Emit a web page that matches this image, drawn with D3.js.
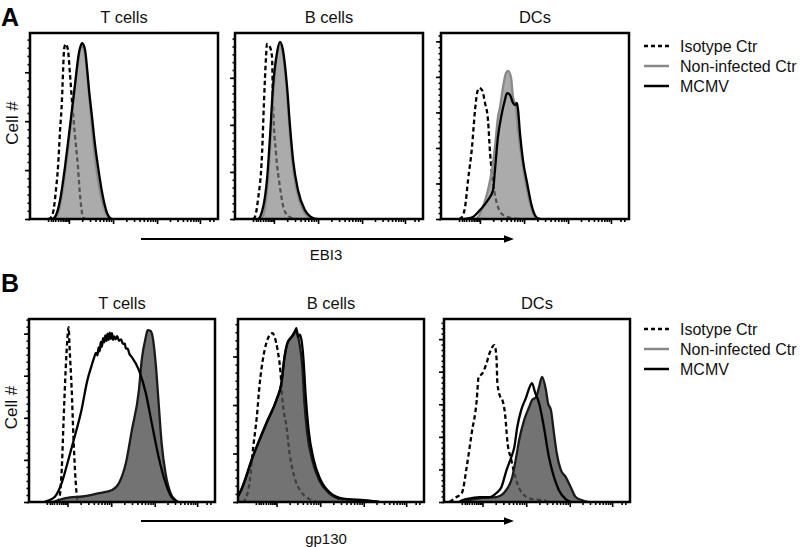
<!DOCTYPE html>
<html><head><meta charset="utf-8">
<script src="https://cdn.jsdelivr.net/npm/d3@7"></script>
<style>body{margin:0;background:#fff}svg text{font-family:Arial,"Liberation Sans",Helvetica,sans-serif;fill:#111}</style>
</head><body>
<svg id="chart" width="800" height="547"></svg>
<script>
// ---------- DATA ----------
const panelLetters = ["A", "B"];
const markers = ["EBI3", "gp130"];
const populations = ["T cells", "B cells", "DCs"];
const legendLabels = ["Isotype Ctr", "Non-infected Ctr", "MCMV"];
const yAxisLabel = "Cell #";

// x: fluorescence channel (% of display range), y: cell count (% of axis max)
// EBI3 - T cells
const ebi3T_iso  = [[9.6,0],[10.6,0.3],[12.2,3.2],[13.8,15.6],[14.9,28],[16.0,47.8],[17.0,64],[17.6,80],[18.1,90.9],[18.6,93.5],[19.1,94.1],[19.7,93],[20.2,90.9],[21.3,77.4],[22.3,64],[23.9,45.2],[25.5,28],[26.6,12.9],[28.2,1.1],[29.3,0]];
const ebi3T_ctrl = [[13.5,0],[15.5,5],[18,20],[20.5,40],[22.5,58],[24.5,76],[26.1,88],[27.2,92.5],[28.2,92.5],[29.3,88],[30.9,73],[32.4,55],[34.0,38],[35.6,25],[37.8,12],[40.2,3.5],[42.2,0]];
const ebi3T_mcmv = [[11.7,0],[13.3,1.1],[16.0,10.2],[18.6,28],[20.7,45.2],[22.3,58.6],[23.9,72],[25.0,81.7],[26.1,89.8],[27.1,93.5],[27.7,94.6],[28.2,94.1],[29.3,90.9],[30.3,81.7],[31.4,69.4],[33.0,54.8],[34.6,39.8],[36.2,28],[38.3,14.5],[41.0,3.2],[42.6,0.5],[43.6,0]];
// EBI3 - B cells
const ebi3B_iso  = [[9.6,0],[10.6,1.1],[12.2,10.2],[14.4,35.5],[15.4,62.4],[16.5,87.1],[17.0,94.1],[18.6,92.5],[19.7,87.1],[20.2,62.4],[21.8,35.5],[23.9,17.2],[26.6,3.8],[30.3,0.5],[33.0,0]];
const ebi3B_ctrl = [[13.5,0],[15,2],[17.5,21],[19,44],[20.6,71],[22.5,89],[23.9,94.5],[25.3,90],[27.4,71],[28.9,49.5],[30.4,31.7],[32.8,15.6],[36.2,4.8],[40,0.5],[42,0]];
const ebi3B_mcmv = [[12.2,0],[13.3,1.1],[17.0,21],[18.6,44.1],[20.2,71],[22.3,89.2],[23.9,95.2],[25.5,90.9],[27.7,71],[29.3,49.5],[30.9,31.7],[33.5,15.6],[37.2,4.8],[41.5,0.5],[43.6,0]];
// EBI3 - DCs
const ebi3D_iso  = [[9.6,0],[11.2,1.1],[12.8,6.5],[14.4,21],[16.5,38.7],[18.1,58.6],[19.2,67.7],[20.2,70.4],[21.8,69.4],[23.4,62.4],[25.0,53.2],[26.1,35.5],[27.7,19.4],[30.3,6.5],[33.0,2.2],[37.8,0.5],[42.0,0]];
const ebi3D_ctrl = [[18,0],[19.2,0.5],[22.3,6.5],[25.0,15.6],[27.1,26.3],[28.7,38.7],[30.3,54.8],[31.4,60.2],[33.0,71],[34.6,78.5],[35.6,79.6],[37.2,76.3],[38.3,65.6],[39.9,60.2],[41.0,47.8],[43.1,31.7],[45.8,15.6],[48.4,4.8],[51.1,0.5],[52.7,0]];
const ebi3D_mcmv = [[12,0],[13.8,0.2],[17.0,1.1],[20.7,4.8],[25.0,10.2],[27.7,15.6],[28.7,26.3],[30.3,44.1],[32.4,57],[34.0,64],[35.1,67.7],[36.7,66.7],[38.3,62.4],[39.4,61.3],[40.4,62.4],[41.0,58.6],[42.0,46.2],[43.6,31.7],[45.8,19.4],[48.4,6.5],[51.1,0.5],[52.7,0]];
// gp130 - T cells
const gpT_iso  = [[14.9,0],[16.0,1.1],[17.6,17.5],[18.6,44.8],[19.7,72.1],[20.7,90.1],[21.3,95.6],[21.8,84.6],[22.9,62.8],[23.9,35.5],[25.0,12.6],[26.1,1.1],[27.1,0]];
const gpT_ctrl = [[12.8,0],[16,1.1],[22,2.5],[28.7,3],[37.8,4.9],[44.7,6.6],[48.4,10.4],[52.1,21.3],[55.3,39.3],[59.1,61.2],[60.6,77.5],[62.8,90.1],[63.8,93.9],[65.4,93.4],[66.5,90.1],[68.1,75.9],[69.7,54.1],[71.3,32.2],[73.4,15.8],[76.1,4.9],[78.7,1.1],[80.3,0]];
const gpT_mcmv = [[8,0],[9.6,0.5],[13.8,2.7],[17.6,10.4],[20.7,21.3],[24.5,35.5],[28.2,50.2],[31.4,66.6],[33.5,74],[35.1,79.2],[36,81.5],[36.8,80.2],[37.4,84.5],[38,82.3],[38.6,87.5],[39.2,84.8],[39.8,89.5],[40.4,87.2],[41,91],[41.6,88],[42.2,92],[42.8,88.6],[43.4,92.5],[44,89.2],[44.6,92.2],[45.2,88.6],[45.8,90.5],[46.6,88.9],[47.4,90.6],[48.4,88.1],[49.5,88.9],[50.5,86.4],[51.5,86.5],[52.1,83.8],[53,83.8],[54,80.9],[55.3,79.2],[59.1,72.1],[62.8,59.5],[66.0,43.1],[69.7,24.6],[73.4,10.4],[76.6,2.7],[80.3,0]];
// gp130 - B cells
const gpB_iso  = [[2.5,0],[3.7,1.1],[6.4,12],[8.0,28.4],[10.1,46.4],[11.7,65],[13.3,77.5],[15.4,87.4],[17.0,91.2],[18.6,92.3],[19.7,90.1],[21.3,83],[22.9,70.4],[23.9,55.7],[26.1,41],[27.7,26.8],[30.3,13.7],[34.0,5.5],[38.3,1.6],[42.6,0]];
const gpB_ctrl = [[0,3],[1.1,4.9],[8.0,24.6],[15.4,43.1],[20.7,55.7],[23.4,65],[25.0,79.2],[26.6,86.8],[28.7,90.1],[31.4,93.9],[33.0,86.8],[34.6,73.7],[35.6,55.7],[37.2,37.7],[39.9,22.9],[43.6,12],[48.9,4.9],[55.9,1.6],[64.9,1.1],[75.5,0]];
const gpB_mcmv = [[0,3.5],[1.1,5.4],[8.0,25],[15.4,43.6],[20.7,56],[23.4,65.5],[25.0,79],[26.6,87],[28.7,90],[30.2,92],[31.4,95],[32.2,90],[33.2,91.5],[34.2,88],[35.2,78],[36.4,58],[38,39],[40.6,23.5],[44.3,12.3],[49.6,5],[56.6,1.8],[65.6,1.1],[76,0]];
// gp130 - DCs
const gpD_iso  = [[3,0],[5.9,2.2],[9.6,4.9],[12.2,19.1],[14.9,37.7],[17.6,55.7],[18.6,68.3],[20.7,70.4],[22.9,75.9],[24.5,81.4],[27.1,85.7],[28.2,79.2],[28.7,65],[30.3,57.3],[31.4,55.7],[33.0,46.4],[34.0,33.9],[36.2,22.9],[38.8,12],[42.0,4.9],[47.3,1.6],[52.7,1.1],[56,0]];
const gpD_ctrl = [[10,0],[13.8,1.1],[20.7,2.2],[28.2,2.7],[33.5,6.6],[36.7,13.7],[38.8,24.6],[40.4,33.9],[43.1,44.8],[45.8,51.9],[47.3,55.7],[49.5,57.3],[51.1,62.8],[52.7,68.3],[54.8,61.2],[55.9,54.1],[57.5,50.2],[59.1,37.7],[60.6,26.8],[62.8,17.5],[65.4,13.7],[68.1,8.2],[70.8,2.7],[73.9,1.1],[77.7,0]];
const gpD_mcmv = [[8,0],[10.1,1.1],[15.4,2.2],[19.2,2.7],[24.5,2.7],[28.2,4.9],[30.9,8.2],[33.5,17],[36.2,24.6],[37.8,30.0],[39.4,41],[41.5,50.2],[44.2,57.3],[45.8,62.2],[47.3,65],[48.9,60.1],[51.1,54.1],[53.7,41],[56.4,24.6],[59.1,13.7],[61.7,6.6],[65.4,1.6],[68.1,0]];

const histData = [
  [[ebi3T_iso, ebi3T_ctrl, ebi3T_mcmv], [ebi3B_iso, ebi3B_ctrl, ebi3B_mcmv], [ebi3D_iso, ebi3D_ctrl, ebi3D_mcmv]],
  [[gpT_iso, gpT_ctrl, gpT_mcmv], [gpB_iso, gpB_ctrl, gpB_mcmv], [gpD_iso, gpD_ctrl, gpD_mcmv]]
];
// count-axis major tick step (% of axis max) per panel
const yTickSteps = [[26.3, 25.3, 19.1], [23.0, 26.5, 17.8]];
// channel-axis ticks (decades of biexponential display)
const xDecadeTicks = [20.7, 44.2, 67.6, 90.4];
const xLowTicks = [9.6, 11.2, 12.2, 13.4, 14.9, 16.2, 17.4, 18.4, 19.3, 20.1];

// ---------- LAYOUT ----------
const rows = [
  {top: 33, h: 186, lefts: [30, 235, 441], w: 188, arrowY: 239, labelY: 260, letterY: 26, legendY: [46, 66, 86], ctrlStroke: "#8a8a8a", ctrlFill: "#7f7f7f", ctrlOpacity: 0.66},
  {top: 319, h: 183, lefts: [29, 238, 444], w: 186, arrowY: 521, labelY: 544, letterY: 292, legendY: [329, 349, 369], ctrlStroke: "#1a1a1a", ctrlFill: "#505050", ctrlOpacity: 0.8}
];

const svg = d3.select("#chart");
const defs = svg.append("defs");
defs.append("marker").attr("id", "arrow").attr("viewBox", "0 0 10 10")
  .attr("refX", 1).attr("refY", 5).attr("markerWidth", 5).attr("markerHeight", 5)
  .attr("markerUnits", "strokeWidth").attr("orient", "auto")
  .append("path").attr("d", "M0,1.2L10,5L0,8.8Z").attr("fill", "#000");

const minorX = [];
xDecadeTicks.forEach((d, i) => {
  if (i < xDecadeTicks.length - 1) {
    const step = xDecadeTicks[i + 1] - d;
    for (let m = 2; m <= 9; m++) minorX.push(d + step * Math.log10(m));
  }
});
const allMinorX = xLowTicks.concat(minorX).concat([95.5, 97.5]);

rows.forEach((r, ri) => {
  // panel letter
  svg.append("text").attr("x", 1).attr("y", r.letterY)
    .attr("font-size", 25).attr("font-weight", "bold").style("fill", "#000").text(panelLetters[ri]);
  // y label
  svg.append("text").attr("transform", `translate(${r.lefts[0] - 12},${r.top + r.h / 2 - 3}) rotate(-90)`)
    .attr("text-anchor", "middle").attr("font-size", 17).text(yAxisLabel);

  populations.forEach((pop, ci) => {
    const left = r.lefts[ci];
    const g = svg.append("g").attr("transform", `translate(${left},${r.top})`);
    const x = d3.scaleLinear().domain([0, 100]).range([0, r.w]);
    const y = d3.scaleLinear().domain([0, 100]).range([r.h, 0]);
    const clipId = `clip${ri}${ci}`;
    defs.append("clipPath").attr("id", clipId).append("rect").attr("width", r.w).attr("height", r.h);

    g.append("text").attr("x", r.w / 2).attr("y", -10).attr("text-anchor", "middle")
      .attr("font-size", 16.5).text(pop);

    const [iso, ctrl, mcmv] = histData[ri][ci];
    const line = d3.line().x(d => x(d[0])).y(d => y(d[1])).curve(d3.curveMonotoneX);
    const area = d3.area().x(d => x(d[0])).y0(y(0)).y1(d => y(d[1])).curve(d3.curveMonotoneX);
    const plot = g.append("g").attr("clip-path", `url(#${clipId})`);

    plot.append("path").datum(iso).attr("d", line).attr("fill", "none")
      .attr("stroke", "#000").attr("stroke-width", 2.3).attr("stroke-dasharray", "4.5,3");
    plot.append("path").datum(ctrl).attr("d", area).attr("fill", r.ctrlFill).attr("fill-opacity", r.ctrlOpacity);
    plot.append("path").datum(ctrl).attr("d", line).attr("fill", "none")
      .attr("stroke", r.ctrlStroke).attr("stroke-width", 2.3);
    plot.append("path").datum(mcmv).attr("d", line).attr("fill", "none")
      .attr("stroke", "#000").attr("stroke-width", 2.3);

    // axes
    const step = yTickSteps[ri][ci];
    const yMajor = d3.range(0, 100.01, step);
    const yMinor = d3.range(0, 100.01, step / 6);
    const gx1 = g.append("g").attr("transform", `translate(0,${r.h})`)
      .call(d3.axisBottom(x).tickValues(allMinorX).tickSize(3).tickFormat(""));
    const gx2 = g.append("g").attr("transform", `translate(0,${r.h})`)
      .call(d3.axisBottom(x).tickValues(xDecadeTicks).tickSize(5).tickFormat(""));
    const gy1 = g.append("g").call(d3.axisLeft(y).tickValues(yMinor).tickSize(2.5).tickFormat(""));
    const gy2 = g.append("g").call(d3.axisLeft(y).tickValues(yMajor).tickSize(5).tickFormat(""));
    [gx1, gx2, gy1, gy2].forEach(a => {
      a.select(".domain").remove();
      a.selectAll("line").attr("stroke", "#000").attr("stroke-width", 1.6);
    });

    g.append("rect").attr("width", r.w).attr("height", r.h)
      .attr("fill", "none").attr("stroke", "#000").attr("stroke-width", 2.5);
  });

  // arrow + marker label
  svg.append("line").attr("x1", 141).attr("x2", 505).attr("y1", r.arrowY).attr("y2", r.arrowY)
    .attr("stroke", "#000").attr("stroke-width", 2).attr("marker-end", "url(#arrow)");
  svg.append("text").attr("x", 326).attr("y", r.labelY).attr("text-anchor", "middle")
    .attr("font-size", 15).text(markers[ri]);

  // legend
  const styles = [
    {stroke: "#000", dash: "4,3"},
    {stroke: "#888", dash: null},
    {stroke: "#000", dash: null}
  ];
  legendLabels.forEach((lab, li) => {
    const yy = r.legendY[li];
    svg.append("line").attr("x1", 644).attr("x2", 669).attr("y1", yy).attr("y2", yy)
      .attr("stroke", styles[li].stroke).attr("stroke-width", 2.5)
      .attr("stroke-dasharray", styles[li].dash);
    svg.append("text").attr("x", 680).attr("y", yy + 5.5).attr("font-size", 16).text(lab);
  });
});
</script>
</body></html>
